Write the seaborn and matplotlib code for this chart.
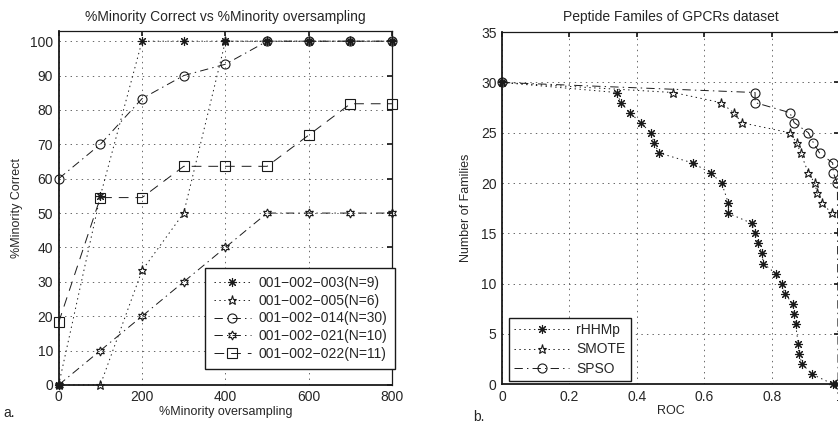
import matplotlib
matplotlib.use("Agg")
import matplotlib.pyplot as plt
import numpy as np
import pandas as pd
import seaborn as sns

sns.set_theme(style="white")
plt.rcParams['font.family'] = ['Liberation Sans', 'DejaVu Sans']
plt.rcParams['axes.unicode_minus'] = True
plt.rcParams['lines.scale_dashes'] = False

# ---- panel a data ----
oversampling = [0, 100, 200, 300, 400, 500, 600, 700, 800]
s003 = [0, 55, 100, 100, 100, 100, 100, 100, 100]
s005 = [0, 0, 33.3, 50, 100, 100, 100, 100, 100]
s014 = [60, 70, 83.3, 90, 93.3, 100, 100, 100, 100]
s021 = [0, 10, 20, 30, 40, 50, 50, 50, 50]
s022 = [18.2, 54.5, 54.5, 63.6, 63.6, 63.6, 72.7, 81.8, 81.8]
labels_a = ["001−002−003(N=9)", "001−002−005(N=6)", "001−002−014(N=30)",
            "001−002−021(N=10)", "001−002−022(N=11)"]

# ---- panel b data ----
rhhmp_roc = [0, 0.340, 0.352, 0.379, 0.411, 0.441, 0.451, 0.465, 0.565, 0.619,
             0.651, 0.671, 0.671, 0.740, 0.750, 0.760, 0.770, 0.775, 0.811,
             0.829, 0.839, 0.861, 0.866, 0.870, 0.878, 0.880, 0.890, 0.919,
             0.982, 0.990]
rhhmp_n = [30, 29, 28, 27, 26, 25, 24, 23, 22, 21, 20, 18, 17, 16, 15, 14, 13,
           12, 11, 10, 9, 8, 7, 6, 4, 3, 2, 1, 0, 0]
smote_roc = [0, 0.508, 0.648, 0.687, 0.710, 0.853, 0.873, 0.885, 0.908, 0.927,
             0.934, 0.949, 0.977]
smote_n = [30, 29, 28, 27, 26, 25, 24, 23, 21, 20, 19, 18, 17]
spso_roc = [0, 0.750, 0.750, 0.853, 0.866, 0.908, 0.923, 0.941, 0.980, 0.982,
            0.994, 0.996]
spso_n = [30, 29, 28, 27, 26, 25, 24, 23, 22, 21, 20, 0]

DOT = (0, (1, 2.5))
DASHDOT = (0, (6, 3, 1, 3))
DASH = (0, (7, 5))

fig = plt.figure(figsize=(8.38, 4.23), dpi=100)
ax1 = fig.add_axes([0.070, 0.090, 0.398, 0.837])
ax2 = fig.add_axes([0.599, 0.0915, 0.4027, 0.8325])

line_kw = dict(color="k", linewidth=0.7, markersize=6.5, markeredgewidth=0.8,
               estimator=None, sort=False, clip_on=False)

series_a = [
    (s003, (8, 2, 0), DOT, "k"),
    (s005, "*", DOT, "none"),
    (s014, "o", DASHDOT, "none"),
    (s021, (6, 1, 0), DASHDOT, "none"),
    (s022, "s", DASH, "none"),
]
for (vals, mk, ls, fc), lab in zip(series_a, labels_a):
    sns.lineplot(x=oversampling, y=vals, ax=ax1, marker=mk, linestyle=ls,
                 markerfacecolor=fc, markeredgecolor="k", label=lab, **line_kw)

series_b = [
    (rhhmp_roc, rhhmp_n, (8, 2, 0), DOT, "k", "rHHMp"),
    (smote_roc, smote_n, "*", DOT, "none", "SMOTE"),
    (spso_roc, spso_n, "o", DASHDOT, "none", "SPSO"),
]
for xs, ys, mk, ls, fc, lab in series_b:
    sns.lineplot(x=xs, y=ys, ax=ax2, marker=mk, linestyle=ls,
                 markerfacecolor=fc, markeredgecolor="k", label=lab, **line_kw)

for ax in (ax1, ax2):
    ax.grid(True, linestyle=(0, (1, 3)), color="0.3", linewidth=0.6)
    ax.tick_params(direction="in", top=True, right=True, length=3.5,
                   labelsize=10, pad=4, color="k")
    for side, sp in ax.spines.items():
        sp.set_color("k")
        sp.set_linewidth(1.3 if side in ("left", "bottom") else 0.9)
        sp.set_zorder(5)

ax1.set_xlim(0, 800)
ax1.set_ylim(0, 103)
ax1.set_xticks(oversampling[::2])
ax1.set_yticks(range(0, 101, 10))
ax1.set_title("%Minority Correct vs %Minority oversampling", fontsize=10, pad=7)
ax1.set_xlabel("%Minority oversampling", fontsize=9, labelpad=1)
ax1.set_ylabel("%Minority Correct", fontsize=9, labelpad=5)
ax1.legend(loc="lower right", bbox_to_anchor=(1.009, 0.045), borderaxespad=0,
           fontsize=10, frameon=True, fancybox=False, edgecolor="k",
           framealpha=1, handlelength=2.7, handletextpad=0.5,
           labelspacing=0.26, borderpad=0.6).get_frame().set_linewidth(1.0)

ax2.set_xlim(0, 1)
ax2.set_ylim(0, 35)
ax2.set_xticks([0, 0.2, 0.4, 0.6, 0.8, 1.0])
ax2.set_xticklabels(["0", "0.2", "0.4", "0.6", "0.8", "1"])
ax2.set_yticks(range(0, 36, 5))
ax2.set_title("Peptide Familes of GPCRs dataset", fontsize=10, pad=8)
ax2.set_xlabel("ROC", fontsize=9, labelpad=1)
ax2.set_ylabel("Number of Families", fontsize=9, labelpad=6)
ax2.legend(loc="lower left", bbox_to_anchor=(0.021, 0.009), borderaxespad=0,
           fontsize=10, frameon=True, fancybox=False, edgecolor="k",
           framealpha=1, handlelength=4.0, handletextpad=0.5,
           labelspacing=0.42, borderpad=0.35).get_frame().set_linewidth(1.0)

fig.text(0.004, 0.015, "a.", fontsize=10)
fig.text(0.565, 0.005, "b.", fontsize=10)

fig.savefig("out.png", dpi=100)
